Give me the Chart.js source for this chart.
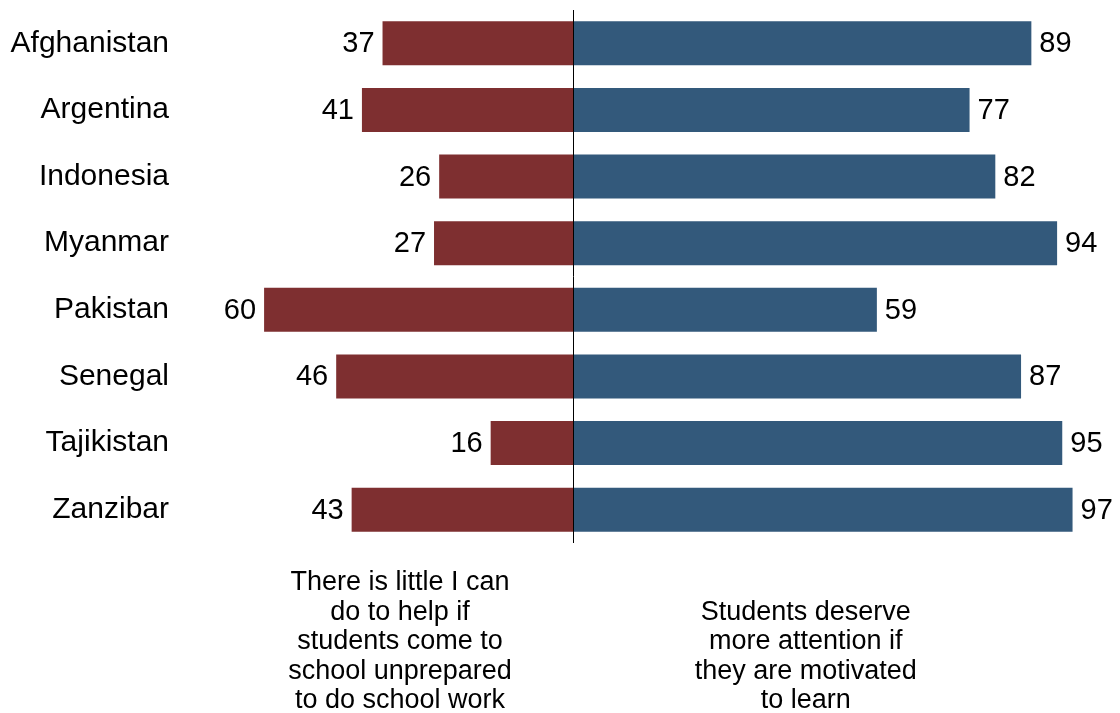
<!DOCTYPE html>
<html>
<head>
<meta charset="utf-8">
<script src="https://cdn.jsdelivr.net/npm/chart.js@4.4.0/dist/chart.umd.min.js"></script>
<style>
  html, body { margin: 0; padding: 0; background: #fff; }
  #wrap { width: 1120px; height: 713px; }
</style>
</head>
<body>
<div id="wrap"><canvas id="chart" width="1120" height="713"></canvas></div>
<script>
// diverging bars: left = "little I can do", right = "deserve more attention"
const countries = ['Afghanistan', 'Argentina', 'Indonesia', 'Myanmar', 'Pakistan', 'Senegal', 'Tajikistan', 'Zanzibar'];
const littleCanDo = [37, 41, 26, 27, 60, 46, 16, 43];
const deserveMore = [89, 77, 82, 94, 59, 87, 95, 97];

const leftCaption  = ['There is little I can', 'do to help if', 'students come to', 'school unprepared', 'to do school work'];
const rightCaption = ['Students deserve', 'more attention if', 'they are motivated', 'to learn'];

const RED  = '#7e2f30';
const BLUE = '#33597b';
const FONT = "'Liberation Sans', Arial, sans-serif";

// value labels at the outer end of each bar
const valueLabels = {
  id: 'valueLabels',
  afterDatasetsDraw(chart) {
    const { ctx } = chart;
    ctx.save();
    ctx.font = `29px ${FONT}`;
    ctx.fillStyle = '#000';
    ctx.textBaseline = 'middle';
    chart.data.datasets.forEach((ds, i) => {
      const meta = chart.getDatasetMeta(i);
      meta.data.forEach((bar, j) => {
        const v = Math.abs(ds.data[j]);
        if (ds.data[j] < 0) {
          ctx.textAlign = 'right';
          ctx.fillText(v, bar.x - 8, bar.y + 1);
        } else {
          ctx.textAlign = 'left';
          ctx.fillText(v, bar.x + 8, bar.y + 1);
        }
      });
    });
    ctx.restore();
  }
};

// zero line plus the two captions under the chart
const centerAndCaptions = {
  id: 'centerAndCaptions',
  afterDatasetsDraw(chart) {
    const { ctx, chartArea, scales } = chart;
    const x0 = Math.round(scales.x.getPixelForValue(0)) + 0.5;
    ctx.save();
    ctx.strokeStyle = '#000';
    ctx.lineWidth = 1;
    ctx.beginPath();
    ctx.moveTo(x0, chartArea.top);
    ctx.lineTo(x0, chartArea.bottom);
    ctx.stroke();

    ctx.font = `27px ${FONT}`;
    ctx.fillStyle = '#000';
    ctx.textAlign = 'center';
    ctx.textBaseline = 'alphabetic';
    const lastBase = 708, lh = 29.5;
    const drawBlock = (lines, cx) => {
      lines.forEach((t, k) => {
        ctx.fillText(t, cx, lastBase - (lines.length - 1 - k) * lh);
      });
    };
    drawBlock(leftCaption, scales.x.getPixelForValue(-33.6));
    drawBlock(rightCaption, scales.x.getPixelForValue(45.2));
    ctx.restore();
  }
};

new Chart(document.getElementById('chart'), {
  type: 'bar',
  data: {
    labels: countries,
    datasets: [
      {
        data: littleCanDo.map(v => -v),
        backgroundColor: RED,
        borderWidth: 0,
        categoryPercentage: 1,
        barPercentage: 0.66,
      },
      {
        data: deserveMore,
        backgroundColor: BLUE,
        borderWidth: 0,
        categoryPercentage: 1,
        barPercentage: 0.66,
      },
    ],
  },
  options: {
    indexAxis: 'y',
    responsive: false,
    animation: false,
    layout: { padding: { top: 10, bottom: 170, left: 0, right: 32 } },
    plugins: {
      legend: { display: false },
      tooltip: { enabled: false },
    },
    scales: {
      x: {
        display: false,
        stacked: true,
        min: -74,
        max: 100,
      },
      y: {
        stacked: true,
        grid: { display: false, drawTicks: false },
        border: { display: false },
        ticks: {
          color: '#000',
          padding: 23,
          font: { family: FONT, size: 30 },
        },
        afterFit(scale) {
          scale.width = 192;
          scale.paddingTop = 0;
          scale.paddingBottom = 0;
        },
      },
    },
  },
  plugins: [valueLabels, centerAndCaptions],
});
</script>
</body>
</html>
